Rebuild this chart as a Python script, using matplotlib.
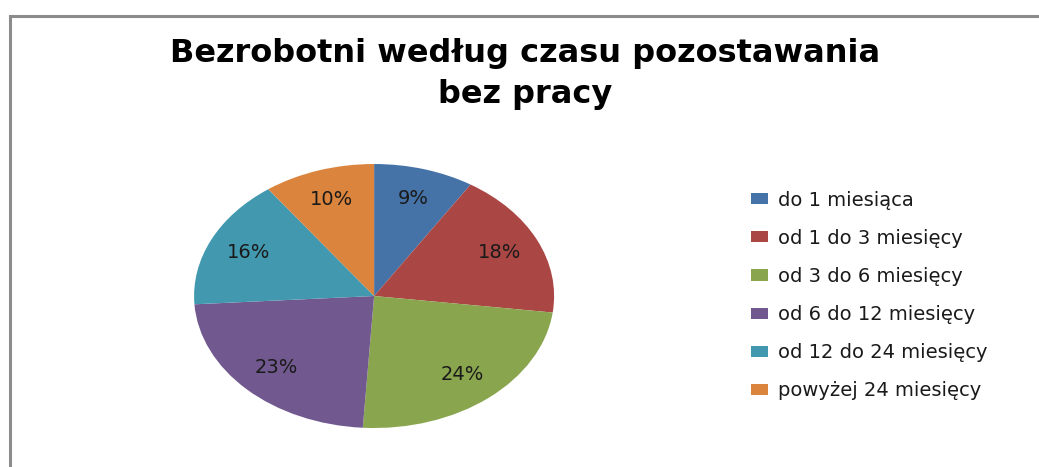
import matplotlib
matplotlib.use("Agg")
import matplotlib.pyplot as plt
from matplotlib.patches import Rectangle

# dane z wykresu
labels = ["do 1 miesiąca", "od 1 do 3 miesięcy", "od 3 do 6 miesięcy",
          "od 6 do 12 miesięcy", "od 12 do 24 miesięcy", "powyżej 24 miesięcy"]
values = [9, 18, 24, 23, 16, 10]
colors = ["#4572A7", "#AA4643", "#89A54E", "#71588F", "#4198AF", "#DB843D"]
title = "Bezrobotni według czasu pozostawania\nbez pracy"

fig = plt.figure(figsize=(10.39, 4.67), dpi=100)

# ramka wykresu (wychodzi poza prawy i dolny brzeg)
fig.patches.append(Rectangle((9.5 / 1039, -0.1), 1.2, 1 - 15.5 / 467 + 0.1,
                             transform=fig.transFigure, fill=False,
                             edgecolor="#8c8c8c", linewidth=2.2))

ax = fig.add_axes([0.1868, 0.0835, 0.3465, 0.5653])
wedges, texts = ax.pie(values, colors=colors, startangle=90, counterclock=False,
                       labels=[f"{v}%" for v in values], labeldistance=0.77,
                       textprops=dict(fontsize=14, color="#1a1a1a"),
                       wedgeprops=dict(linewidth=0))
for t in texts:
    t.set_horizontalalignment("center")
    t.set_verticalalignment("center")
ax.set_aspect("auto")
ax.set_xlim(-1, 1)
ax.set_ylim(-1, 1)

fig.text(0.505, 1 - 74 / 467, title, ha="center", va="center",
         fontsize=23, fontweight="bold", linespacing=1.4)

fig.legend(wedges, labels, loc="upper left", bbox_to_anchor=(0.7158, 1 - 183 / 467),
           frameon=False, fontsize=14, handlelength=0.85, handleheight=0.5,
           handletextpad=0.5, labelspacing=0.98, borderaxespad=0,
           labelcolor="#1a1a1a")

fig.savefig("out.png", dpi=100)
